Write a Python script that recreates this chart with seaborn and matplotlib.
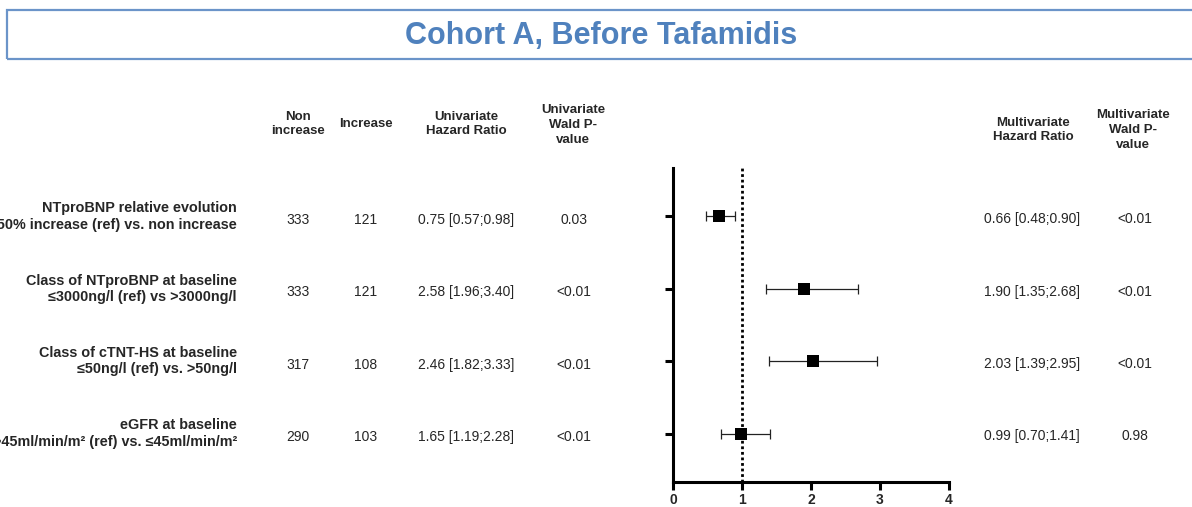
import matplotlib
matplotlib.use("Agg")
import matplotlib.pyplot as plt
import matplotlib.patches as mpatches
from matplotlib.transforms import blended_transform_factory
import pandas as pd
import seaborn as sns

# data
row_title = ["NTproBNP relative evolution",
             "Class of NTproBNP at baseline",
             "Class of cTNT-HS at baseline",
             "eGFR at baseline"]
row_detail = ["\u226550% increase (ref) vs. non increase",
              "\u22643000ng/l (ref) vs >3000ng/l",
              "\u226450ng/l (ref) vs. >50ng/l",
              ">45ml/min/m\u00b2 (ref) vs. \u226445ml/min/m\u00b2"]
non_increase = [333, 333, 317, 290]
increase = [121, 121, 108, 103]
uni_hr = [0.75, 2.58, 2.46, 1.65]
uni_lo = [0.57, 1.96, 1.82, 1.19]
uni_hi = [0.98, 3.40, 3.33, 2.28]
uni_p = ["0.03", "<0.01", "<0.01", "<0.01"]
multi_hr = [0.66, 1.90, 2.03, 0.99]
multi_lo = [0.48, 1.35, 1.39, 0.70]
multi_hi = [0.90, 2.68, 2.95, 1.41]
multi_p = ["<0.01", "<0.01", "<0.01", "0.98"]

df = pd.DataFrame({"row": range(4), "hr": multi_hr, "lo": multi_lo, "hi": multi_hi})

sns.set_style("white")
plt.rcParams["font.family"] = ["Liberation Sans", "DejaVu Sans"]

W, H = 1192, 507
fig = plt.figure(figsize=(W / 100, H / 100), dpi=100)

# forest plot axes (pixel positions from the reference)
ax = fig.add_axes([673 / W, (H - 482) / H, (949 - 673) / W, (482 - 168) / H])

ax.errorbar(df["hr"], df["row"],
            xerr=[df["hr"] - df["lo"], df["hi"] - df["hr"]],
            fmt="none", ecolor="#222222", elinewidth=0.9, capsize=3.5, capthick=0.9, zorder=2)
sns.scatterplot(data=df, x="hr", y="row", marker="s", s=70, color="black",
                edgecolor="black", linewidth=0, ax=ax, zorder=3)
ax.axvline(1, color="black", lw=2, linestyle=(0, (1, 1)), zorder=1)

ax.set_xlim(0, 4)
ax.set_ylim(3.67, -0.67)
ax.set_xticks([0, 1, 2, 3, 4])
ax.set_yticks(range(4))
ax.set_yticklabels([])
ax.set_xlabel("")
ax.set_ylabel("")
for side in ["top", "right"]:
    ax.spines[side].set_visible(False)
for side in ["left", "bottom"]:
    ax.spines[side].set_linewidth(2.2)
    ax.spines[side].set_color("black")
ax.tick_params(axis="both", direction="out", length=6, width=2.2, color="black",
               bottom=True, left=True)
ax.tick_params(axis="x", labelsize=10, pad=2)
for t in ax.get_xticklabels():
    t.set_fontweight("bold")

# table text: x in figure pixels, y in data rows
tr = blended_transform_factory(fig.transFigure, ax.transData)

def px(x):
    return x / W

for i in range(4):
    ax.text(px(237), i, row_title[i] + "\n" + row_detail[i], transform=tr,
            ha="right", va="center", multialignment="right",
            fontsize=10.4, fontweight="bold", linespacing=1.2, clip_on=False)
    ax.text(px(298), i + 0.05, str(non_increase[i]), transform=tr, ha="center", va="center", fontsize=10)
    ax.text(px(366), i + 0.05, str(increase[i]), transform=tr, ha="center", va="center", fontsize=10)
    ax.text(px(466), i + 0.05, f"{uni_hr[i]:.2f} [{uni_lo[i]:.2f};{uni_hi[i]:.2f}]",
            transform=tr, ha="center", va="center", fontsize=10)
    ax.text(px(574), i + 0.05, uni_p[i], transform=tr, ha="center", va="center", fontsize=10)
    ax.text(px(1032), i + 0.04, f"{multi_hr[i]:.2f} [{multi_lo[i]:.2f};{multi_hi[i]:.2f}]",
            transform=tr, ha="center", va="center", fontsize=10)
    ax.text(px(1135), i + 0.04, multi_p[i], transform=tr, ha="center", va="center", fontsize=10)

# column headers
headers = [("Non\nincrease", 298, 124), ("Increase", 366, 124),
           ("Univariate\nHazard Ratio", 466, 124), ("Univariate\nWald P-\nvalue", 573, 125),
           ("Multivariate\nHazard Ratio", 1033, 130), ("Multivariate\nWald P-\nvalue", 1133, 130)]
for txt, x, y in headers:
    fig.text(px(x), 1 - y / H, txt, ha="center", va="center", fontsize=9.5,
             fontweight="bold", linespacing=1.3)

# title box
fig.patches.append(mpatches.Rectangle((7 / W, 1 - 59 / H), (1210 - 7) / W, 49 / H,
                                      transform=fig.transFigure, fill=False,
                                      edgecolor="#6b94c9", linewidth=1.6, clip_on=False))
fig.text(px(601), 1 - 36 / H, "Cohort A, Before Tafamidis", ha="center", va="center",
         fontsize=22, fontweight="bold", color="#4f81bd")

fig.savefig("out.png", dpi=100)
